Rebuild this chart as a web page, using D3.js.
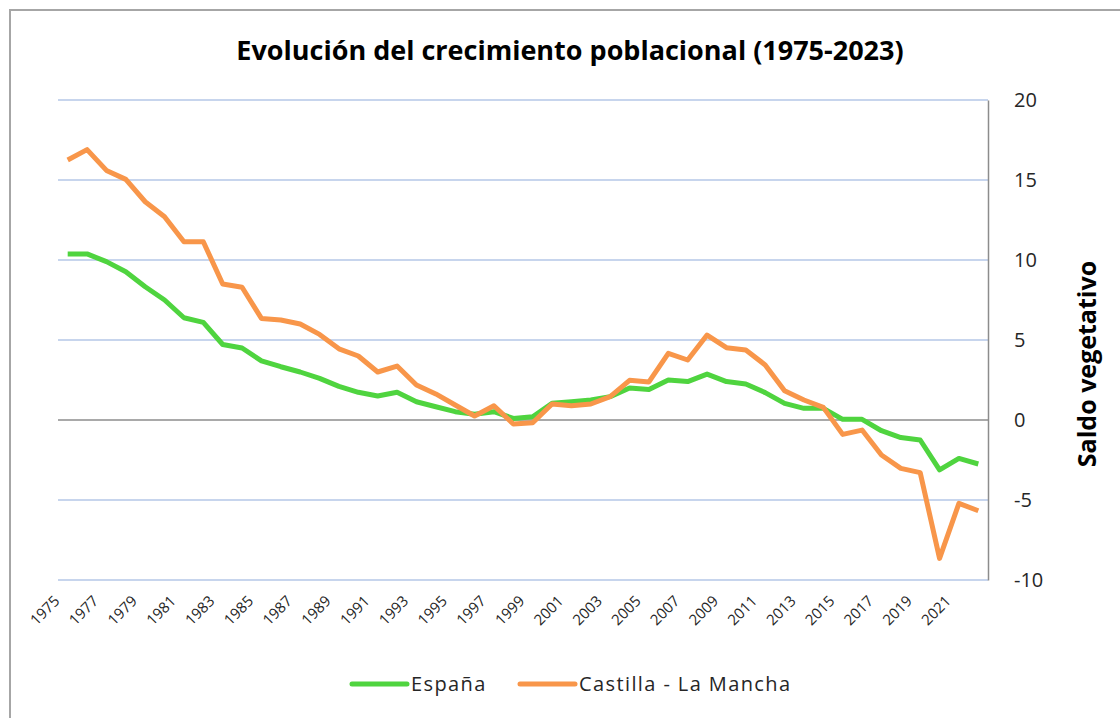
<!DOCTYPE html>
<html>
<head>
<meta charset="utf-8">
<script src="https://cdn.jsdelivr.net/npm/d3@7"></script>
<style>
  body { margin: 0; background: #fff; }
  svg { display: block; font-family: 'Open Sans', sans-serif; }
</style>
</head>
<body>
<svg id="chart" width="1120" height="718"></svg>
<script>
const years = d3.range(1975, 2023)
const tickYears = d3.range(1975, 2022, 2)
const yTicks = [-10, -5, 0, 5, 10, 15, 20]

const espana = [
  10.38, 10.38, 9.9, 9.27, 8.33, 7.5, 6.39, 6.1, 4.72, 4.5,
  3.7, 3.33, 3.0, 2.6, 2.1, 1.73, 1.5, 1.73, 1.14, 0.83,
  0.52, 0.36, 0.52, 0.1, 0.2, 1.04, 1.14, 1.25, 1.46, 2.0,
  1.9, 2.5, 2.4, 2.87, 2.4, 2.25, 1.71, 1.04, 0.73, 0.73,
  0.04, 0.04, -0.67, -1.1, -1.25, -3.12, -2.4, -2.75
]
const castilla = [
  16.25, 16.9, 15.6, 15.04, 13.64, 12.7, 11.14, 11.14, 8.5, 8.3,
  6.35, 6.25, 6.0, 5.35, 4.45, 4.0, 3.0, 3.37, 2.19, 1.63,
  0.94, 0.25, 0.89, -0.25, -0.17, 1.0, 0.89, 1.0, 1.46, 2.48,
  2.38, 4.17, 3.75, 5.31, 4.52, 4.38, 3.44, 1.83, 1.25, 0.79,
  -0.9, -0.63, -2.19, -3.02, -3.29, -8.65, -5.21, -5.67
]

const series = [
  { name: 'España', values: espana, color: '#4fd43f' },
  { name: 'Castilla - La Mancha', values: castilla, color: '#f8964a' }
]

const plot = { left: 58, right: 988, top: 100, bottom: 580 }

const svg = d3.select('#chart')

// chart frame
svg.append('rect')
  .attr('x', 10).attr('y', 10)
  .attr('width', 1140).attr('height', 740)
  .attr('fill', 'none')
  .attr('stroke', '#a6a6a6')
  .attr('stroke-width', 2)

const x = d3.scaleBand()
  .domain(years)
  .range([plot.left, plot.right])

const y = d3.scaleLinear()
  .domain([-10, 20])
  .range([plot.bottom, plot.top])

// gridlines
svg.append('g')
  .selectAll('line')
  .data(yTicks.filter(d => d !== 0))
  .join('line')
  .attr('x1', plot.left).attr('x2', plot.right)
  .attr('y1', d => y(d)).attr('y2', d => y(d))
  .attr('stroke', '#b4c7e7')
  .attr('stroke-width', 1.5)

// zero line
svg.append('line')
  .attr('x1', plot.left).attr('x2', plot.right)
  .attr('y1', y(0)).attr('y2', y(0))
  .attr('stroke', '#8c8c8c')
  .attr('stroke-width', 1.5)

// right axis
const yAxis = svg.append('g')
  .attr('transform', `translate(${plot.right},0)`)
  .call(d3.axisRight(y).tickValues(yTicks).tickSize(0).tickPadding(26).tickFormat(d => String(d)))
yAxis.select('.domain').attr('stroke', '#8c8c8c').attr('stroke-width', 1.5)
yAxis.selectAll('text')
  .attr('font-size', 20)
  .attr('fill', '#262626')
  .attr('font-family', "'Open Sans', sans-serif")

svg.append('text')
  .attr('transform', `translate(1096,${(plot.top + plot.bottom) / 2 + 24}) rotate(-90)`)
  .attr('text-anchor', 'middle')
  .attr('font-size', 25)
  .attr('font-weight', 'bold')
  .attr('fill', '#000')
  .text('Saldo vegetativo')

// x labels
svg.append('g')
  .selectAll('text')
  .data(tickYears)
  .join('text')
  .attr('transform', d => `translate(${x(d) + x.bandwidth() / 2 - 7},${plot.bottom + 22}) rotate(-45)`)
  .attr('text-anchor', 'end')
  .attr('font-size', 15)
  .attr('fill', '#262626')
  .text(d => d)

// lines
const line = d3.line()
  .x((d, i) => x(years[i]) + x.bandwidth() / 2)
  .y(d => y(d))

svg.append('g')
  .selectAll('path')
  .data(series)
  .join('path')
  .attr('d', d => line(d.values))
  .attr('fill', 'none')
  .attr('stroke', d => d.color)
  .attr('stroke-width', 5)
  .attr('stroke-linejoin', 'round')

// title
svg.append('text')
  .attr('x', 570).attr('y', 60)
  .attr('text-anchor', 'middle')
  .attr('font-size', 27)
  .attr('font-weight', 'bold')
  .attr('fill', '#000')
  .text('Evolución del crecimiento poblacional (1975-2023)')

// legend
const legendPos = [352, 520]
const legend = svg.append('g')
  .selectAll('g')
  .data(series)
  .join('g')
  .attr('transform', (d, i) => `translate(${legendPos[i]},684)`)
legend.append('line')
  .attr('x1', 0).attr('x2', 55)
  .attr('stroke', d => d.color)
  .attr('stroke-width', 5)
  .attr('stroke-linecap', 'round')
legend.append('text')
  .attr('x', 59).attr('y', 7)
  .attr('font-size', 20)
  .attr('letter-spacing', 1.4)
  .attr('fill', '#262626')
  .text(d => d.name)
</script>
</body>
</html>
